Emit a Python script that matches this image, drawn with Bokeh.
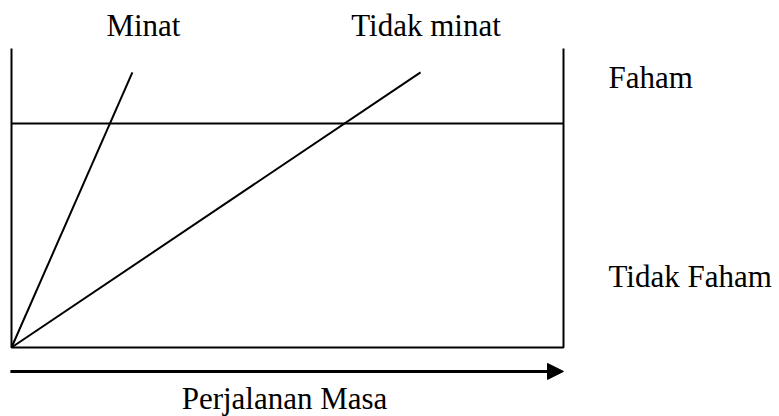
from bokeh.plotting import figure
from bokeh.models import Range1d, Arrow, NormalHead
from bokeh.core.properties import value
from bokeh.embed import file_html
from bokeh.resources import INLINE

# Conceptual diagram data (time on x, understanding on y; box spans 0..1)
box_x = [0.0, 0.0, 1.0, 1.0]
box_y = [1.0, 0.0, 0.0, 1.0]
threshold = 0.749                # level separating "Faham" and "Tidak Faham"
minat_end = (0.219, 0.92)        # interested learners
tidak_minat_end = (0.741, 0.92)  # not interested learners
time_arrow = (-0.002, 1.0, -0.080)

top_labels = ["Minat", "Tidak minat"]
top_label_x = [0.239, 0.751]
top_label_y = 1.077
side_labels = ["Faham", "Tidak Faham"]
side_label_y = [0.904, 0.238]
side_label_x = 1.0815
axis_label = "Perjalanan Masa"
axis_label_pos = (0.4946, -0.170)

W, H = 779, 416
p = figure(width=W, height=H, output_backend="svg", toolbar_location=None,
           x_range=Range1d(-0.019928, 1.3913), y_range=Range1d(-0.23077, 1.16054),
           min_border=0)
p.axis.visible = False
p.grid.visible = False
p.outline_line_color = None
p.background_fill_color = "white"
p.border_fill_color = "white"

LW = 2
p.line(box_x, box_y, line_color="black", line_width=LW)
p.line([box_x[0], box_x[3]], [threshold, threshold], line_color="black", line_width=LW)
p.line([0.0, minat_end[0]], [0.0, minat_end[1]], line_color="black", line_width=LW)
p.line([0.0, tidak_minat_end[0]], [0.0, tidak_minat_end[1]], line_color="black", line_width=LW)

p.add_layout(Arrow(end=NormalHead(size=16, fill_color="black", line_color="black"),
                   x_start=time_arrow[0], x_end=time_arrow[1],
                   y_start=time_arrow[2], y_end=time_arrow[2],
                   line_color="black", line_width=3))

font = value("Liberation Serif")
p.text(x=top_label_x, y=[top_label_y] * 2, text=top_labels, text_font=font,
       text_font_size="31px", text_align="center", text_baseline="alphabetic",
       text_color="black")
p.text(x=[side_label_x] * 2, y=side_label_y, text=side_labels, text_font=font,
       text_font_size="31px", text_align="left", text_baseline="alphabetic",
       text_color="black")
p.text(x=[axis_label_pos[0]], y=[axis_label_pos[1]], text=[axis_label], text_font=font,
       text_font_size="31px", text_align="center", text_baseline="alphabetic",
       text_color="black")

open("out.html", "w").write(file_html(p, INLINE))
